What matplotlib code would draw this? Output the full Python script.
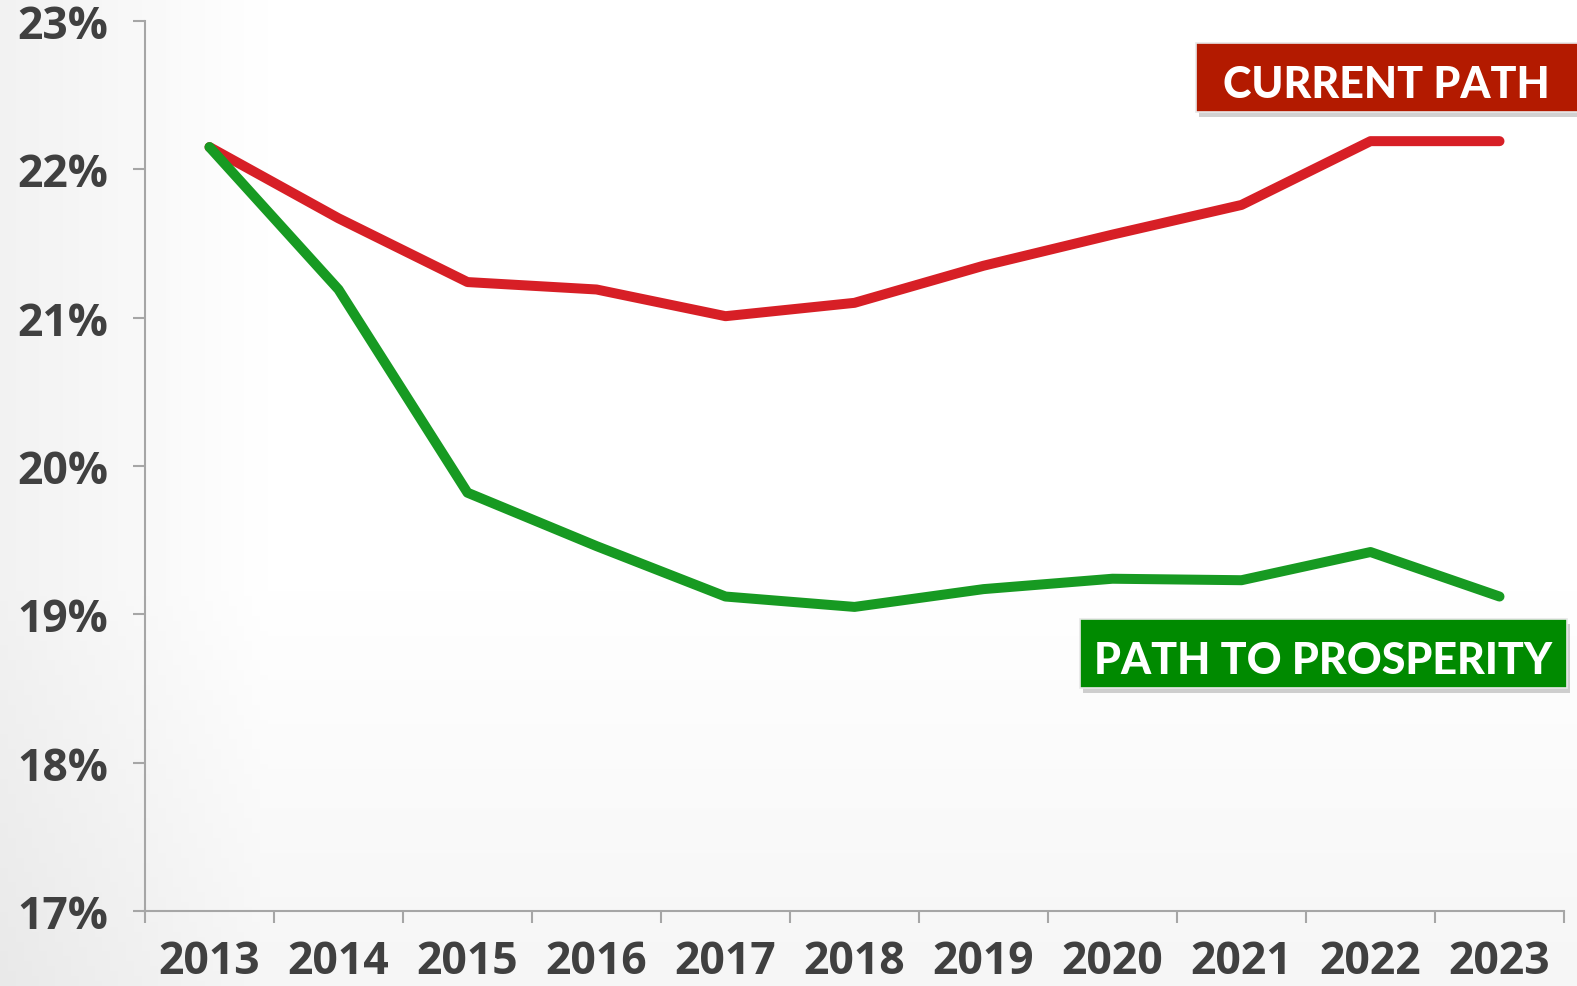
import numpy as np
import matplotlib
matplotlib.use("Agg")
import matplotlib.pyplot as plt
from matplotlib.patches import Rectangle
from matplotlib.transforms import blended_transform_factory

# ======================
# Données
# ======================
years = ["2013", "2014", "2015", "2016", "2017", "2018", "2019", "2020", "2021", "2022", "2023"]
current_path = [22.15, 21.67, 21.24, 21.19, 21.01, 21.10, 21.35, 21.56, 21.76, 22.19, 22.19]
prosperity = [22.15, 21.19, 19.82, 19.46, 19.12, 19.05, 19.17, 19.24, 19.23, 19.42, 19.12]
y_ticks = [17, 18, 19, 20, 21, 22, 23]

RED = "#D71F26"
GREEN = "#179A22"
BOX_RED = "#B31A00"
BOX_GREEN = "#008A00"
GRAY_TXT = "#404040"
AXIS_GRAY = "#A6A6A6"

W, H = 1577, 987
fig = plt.figure(figsize=(W / 100, H / 100), dpi=100)

# fond légèrement dégradé
bg = fig.add_axes([0, 0, 1, 1], zorder=-10)
xx, yy = np.meshgrid(np.linspace(0, 1, 200), np.linspace(0, 1, 200))
shade = 1 - 0.05 * np.clip(1 - xx * 6, 0, 1) - 0.035 * np.clip(yy - 0.6, 0, 1) / 0.4
bg.imshow(np.dstack([shade] * 3), extent=[0, 1, 0, 1], aspect="auto", origin="upper")
bg.set_axis_off()

ax = fig.add_axes([145 / W, 1 - 912 / H, (1564 - 145) / W, (912 - 22) / H])
ax.patch.set_alpha(0)

x = np.arange(len(years))
ax.plot(x, current_path, color=RED, lw=7.2, solid_capstyle="round", solid_joinstyle="round", zorder=3)
ax.plot(x, prosperity, color=GREEN, lw=7.2, solid_capstyle="round", solid_joinstyle="round", zorder=4)

ax.set_xlim(-0.5, len(years) - 0.5)
ax.set_ylim(17, 23)

for s in ["top", "right"]:
    ax.spines[s].set_visible(False)
for s in ["left", "bottom"]:
    ax.spines[s].set_color(AXIS_GRAY)
    ax.spines[s].set_linewidth(1.5)

# ticks aux frontières des catégories
ax.set_xticks(np.arange(len(years) + 1) - 0.5)
ax.set_xticklabels([])
ax.tick_params(axis="x", length=8.6, width=1.5, color=AXIS_GRAY, direction="out")

# années au centre, en bas de la figure
trans = blended_transform_factory(ax.transData, fig.transFigure)
for xi, yr in zip(x, years):
    ax.text(xi, 1.5 / H, yr, transform=trans, ha="center", va="bottom",
            fontsize=32, fontweight="bold", color=GRAY_TXT, family="Open Sans", clip_on=False)

ax.set_yticks(y_ticks)
ax.set_yticklabels([f"{v}%" for v in y_ticks], fontsize=32, fontweight="bold", color=GRAY_TXT, family="Open Sans")
ax.tick_params(axis="y", length=8.6, width=1.5, color=AXIS_GRAY, pad=18)

# étiquettes en boîte
def label_box(x0, y0, x1, y1, base, color, text):
    # ombre
    fig.patches.append(Rectangle((x0 / W + 0.002, 1 - (y1 + 5) / H), (x1 - x0) / W, (y1 - y0) / H,
                                 transform=fig.transFigure, facecolor="#000000", alpha=0.18,
                                 edgecolor="none", zorder=5))
    fig.patches.append(Rectangle((x0 / W, 1 - y1 / H), (x1 - x0) / W, (y1 - y0) / H,
                                 transform=fig.transFigure, facecolor=color,
                                 edgecolor="#E8E8E8", lw=1.2, zorder=6))
    fig.text((x0 + x1) / 2 / W if x1 < W else 1386 / W, 1 - base / H, text, color="white", fontsize=31,
             fontweight="black", family="Lato", ha="center", va="baseline", zorder=7)

label_box(1196, 44, 1580, 113, 98, BOX_RED, "CURRENT PATH")
label_box(1080, 620, 1567, 689, 674, BOX_GREEN, "PATH TO PROSPERITY")

fig.savefig("out.png", dpi=100)
